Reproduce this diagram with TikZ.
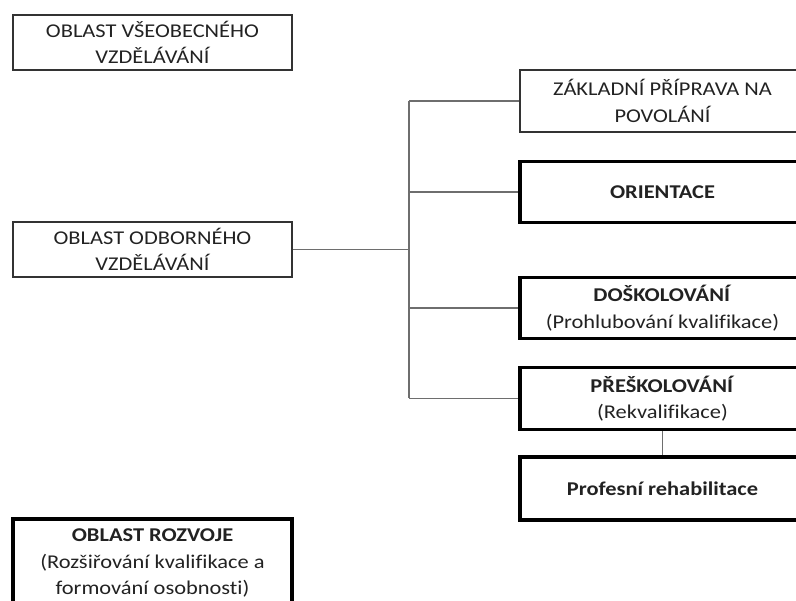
\documentclass[tikz,border=0pt]{standalone}
\usepackage{fontspec}
\setmainfont{Carlito}[FakeStretch=1.15,Ligatures=NoCommon]
\definecolor{linegray}{HTML}{6E6E6E}
\definecolor{textgray}{HTML}{222222}
\tikzset{
  thinbox/.style={draw=black!80, line width=1.3pt, align=center, inner sep=0pt,
    minimum width=279pt, text=textgray, font=\fontsize{19.5}{26.5}\selectfont},
  thickbox/.style={thinbox, draw=black, line width=3.8pt},
  rightbox/.style={minimum width=285pt},
  branch/.style={draw=linegray, line width=1.4pt}
}
\begin{document}
\begin{tikzpicture}[x=1pt,y=-1pt]
\useasboundingbox (0,0) rectangle (796,601);

\node[thinbox, minimum height=55pt] (vseob) at (152.5,42.5) {OBLAST VŠEOBECNÉHO\\VZDĚLÁVÁNÍ};
\node[thinbox, minimum height=55pt] (odb) at (152.5,249.5) {OBLAST ODBORNÉHO\\VZDĚLÁVÁNÍ};
\node[thickbox, minimum height=88pt] (rozv) at (152.5,563) {\textbf{OBLAST ROZVOJE}\\(Rozšiřování kvalifikace a\\formování osobnosti)};

\node[thinbox, rightbox, minimum height=62pt] (zakl) at (662.5,101) {ZÁKLADNÍ PŘÍPRAVA NA\\POVOLÁNÍ};
\node[thickbox, rightbox, minimum height=61pt] (orient) at (662.5,192) {\textbf{ORIENTACE}};
\node[thickbox, rightbox, minimum height=61pt] (dosk) at (662.5,308) {\textbf{DOŠKOLOVÁNÍ}\\(Prohlubování kvalifikace)};
\node[thickbox, rightbox, minimum height=62pt] (presk) at (662.5,398.5) {\textbf{PŘEŠKOLOVÁNÍ}\\(Rekvalifikace)};
\node[thickbox, rightbox, minimum height=63pt] (rehab) at (662.5,488.5) {\textbf{Profesní rehabilitace}};

\coordinate (trunk) at (409,251);
\draw[branch] (odb.east) -- (odb.east -| trunk);
\draw[branch] (trunk |- zakl.west) -- (trunk |- presk.west);
\foreach \n in {zakl,orient,dosk,presk}
  \draw[branch] (trunk |- \n.west) -- (\n.west);
\draw[branch] (presk.south) -- (rehab.north);
\end{tikzpicture}
\end{document}
